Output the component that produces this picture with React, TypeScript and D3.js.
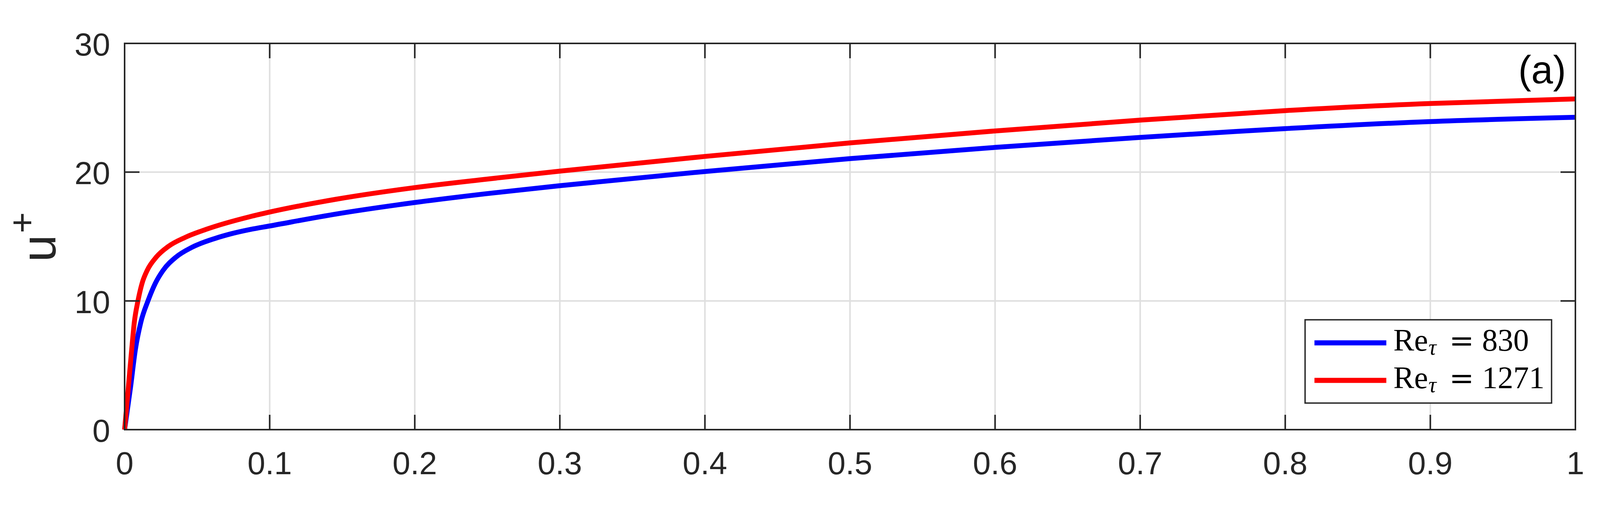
import React from "react";
import * as d3 from "d3";

// Tick values and labels
const xTicks = [0, 0.1, 0.2, 0.3, 0.4, 0.5, 0.6, 0.7, 0.8, 0.9, 1];
const xTickLabels = ["0", "0.1", "0.2", "0.3", "0.4", "0.5", "0.6", "0.7", "0.8", "0.9", "1"];
const yTicks = [0, 10, 20, 30];
const yTickLabels = ["0", "10", "20", "30"];

// Re_tau = 830 profile
const re830X = [0, 0.0041, 0.0074, 0.0112, 0.0161, 0.0211, 0.0264, 0.0354, 0.0462, 0.0623, 0.073, 0.0867, 0.1, 0.146, 0.2, 0.249, 0.3, 0.4, 0.5, 0.6, 0.7, 0.765, 0.8, 0.9, 1.0];
const re830U = [0, 3.3, 6.2, 8.35, 10.0, 11.35, 12.35, 13.4, 14.15, 14.85, 15.2, 15.55, 15.82, 16.75, 17.64, 18.32, 18.95, 20.05, 21.05, 21.92, 22.7, 23.15, 23.38, 23.93, 24.26];

// Re_tau = 1271 profile
const re1271X = [0, 0.0022, 0.0047, 0.0067, 0.0092, 0.0121, 0.0157, 0.0219, 0.03, 0.0417, 0.056, 0.0867, 0.1, 0.146, 0.2, 0.249, 0.3, 0.4, 0.5, 0.6, 0.7, 0.765, 0.8, 0.9, 1.0];
const re1271U = [0, 2.8, 6.0, 8.35, 10.0, 11.39, 12.4, 13.41, 14.22, 14.93, 15.55, 16.55, 16.9, 17.9, 18.8, 19.45, 20.08, 21.22, 22.27, 23.2, 24.04, 24.52, 24.78, 25.33, 25.69];

const seriesLabels = ["830", "1271"];
const seriesColors = ["#0000ff", "#ff0000"];

const W = 4115;
const H = 1302;
const margin = { top: 111, right: 82, bottom: 203, left: 319 };
const AXIS = "#262626";
const GRID = "#dfdfdf";
const TICK_LEN = 38;
const SANS = "'Liberation Sans', Arial, Helvetica, sans-serif";
const SERIF = "'Liberation Serif', 'Times New Roman', serif";

export default function App() {
  const plotW = W - margin.left - margin.right;
  const plotH = H - margin.top - margin.bottom;
  const left = margin.left;
  const right = margin.left + plotW;
  const top = margin.top;
  const bottom = margin.top + plotH;

  const xScale = d3.scaleLinear().domain([0, 1]).range([left, right]);
  const yScale = d3.scaleLinear().domain([0, 30]).range([bottom, top]);

  const line = d3
    .line<[number, number]>()
    .x((d) => xScale(d[0]))
    .y((d) => yScale(d[1]))
    .curve(d3.curveMonotoneX);

  const series = [
    re830X.map((x, i) => [x, re830U[i]] as [number, number]),
    re1271X.map((x, i) => [x, re1271U[i]] as [number, number]),
  ];

  // legend box (layout, relative to the axes corner)
  const lg = { x0: right - 692, y0: bottom - 281, x1: right - 61, y1: bottom - 68 };
  const rowY = [lg.y0 + 59, lg.y0 + 155];

  return (
    <svg
      width={W}
      height={H}
      style={{ position: "absolute", left: 0, top: 0, background: "#fff" }}
    >
      <rect x={0} y={0} width={W} height={H} fill="#fff" />

      {/* Grid */}
      <g stroke={GRID} strokeWidth={4}>
        {xTicks.map((t) => (
          <line key={"gx" + t} x1={xScale(t)} x2={xScale(t)} y1={top} y2={bottom} />
        ))}
        {yTicks.map((t) => (
          <line key={"gy" + t} x1={left} x2={right} y1={yScale(t)} y2={yScale(t)} />
        ))}
      </g>

      {/* Curves */}
      {series.map((s, i) => (
        <path
          key={"s" + i}
          d={line(s) || ""}
          fill="none"
          stroke={seriesColors[i]}
          strokeWidth={12.5}
          strokeLinejoin="round"
        />
      ))}

      {/* Ticks on all four sides */}
      <g stroke={AXIS} strokeWidth={4}>
        {xTicks.map((t) => (
          <g key={"tx" + t}>
            <line x1={xScale(t)} x2={xScale(t)} y1={bottom} y2={bottom - TICK_LEN} />
            <line x1={xScale(t)} x2={xScale(t)} y1={top} y2={top + TICK_LEN} />
          </g>
        ))}
        {yTicks.map((t) => (
          <g key={"ty" + t}>
            <line x1={left} x2={left + TICK_LEN} y1={yScale(t)} y2={yScale(t)} />
            <line x1={right} x2={right - TICK_LEN} y1={yScale(t)} y2={yScale(t)} />
          </g>
        ))}
      </g>

      {/* Box */}
      <rect x={left} y={top} width={plotW} height={plotH} fill="none" stroke={AXIS} strokeWidth={4} />

      {/* Tick labels */}
      <g fontFamily={SANS} fontSize={82} fill={AXIS}>
        {xTicks.map((t, i) => (
          <text key={"lx" + t} x={xScale(t)} y={bottom + 114} textAnchor="middle">
            {xTickLabels[i]}
          </text>
        ))}
        {yTicks.map((t, i) => (
          <text key={"ly" + t} x={left - 37} y={yScale(t) + 31} textAnchor="end">
            {yTickLabels[i]}
          </text>
        ))}
      </g>

      {/* Y label u+ */}
      <text transform="translate(142, 670) rotate(-90)" fontFamily={SANS} fontSize={125} fill={AXIS}>
        u
        <tspan fontSize={92} dx={4} dy={-54}>
          +
        </tspan>
      </text>

      {/* Panel tag */}
      <text x={right - 24} y={top + 102} textAnchor="end" fontFamily={SANS} fontSize={100} fill="#000">
        (a)
      </text>

      {/* Legend */}
      <rect
        x={lg.x0}
        y={lg.y0}
        width={lg.x1 - lg.x0}
        height={lg.y1 - lg.y0}
        fill="#fff"
        stroke={AXIS}
        strokeWidth={3.5}
      />
      {seriesLabels.map((lab, i) => (
        <g key={"lg" + i} fill="#000">
          <line
            x1={lg.x0 + 24}
            x2={lg.x0 + 208}
            y1={rowY[i]}
            y2={rowY[i]}
            stroke={seriesColors[i]}
            strokeWidth={13}
          />
          <text x={lg.x0 + 226} y={rowY[i] + 20} fontFamily={SERIF} fontSize={80}>
            Re
          </text>
          <text x={lg.x0 + 316} y={rowY[i] + 30} fontFamily={SERIF} fontSize={56} fontStyle="italic">
            τ
          </text>
          <text x={lg.x0 + 369} y={rowY[i] + 20} fontFamily="'DejaVu Serif', serif" fontSize={76}>
            =
          </text>
          <text x={lg.x0 + 453} y={rowY[i] + 20} fontFamily={SERIF} fontSize={80}>
            {lab}
          </text>
        </g>
      ))}
    </svg>
  );
}
